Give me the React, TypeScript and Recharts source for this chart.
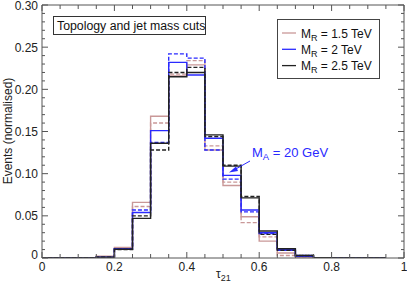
import React from "react";
import { LineChart, Line, XAxis, YAxis } from "recharts";

const binEdges = [0, 0.05, 0.1, 0.15, 0.2, 0.25, 0.3, 0.35, 0.4, 0.45, 0.5, 0.55, 0.6, 0.65, 0.7, 0.75, 0.8, 0.85, 0.9, 0.95];

const mr15Solid = [0, 0, 0, 0.002, 0.0125, 0.066, 0.168, 0.216, 0.229, 0.128, 0.086, 0.049, 0.02, 0.006, 0.001, 0.0005, 0, 0, 0];
const mr15Dashed = [0, 0, 0, 0.0015, 0.012, 0.061, 0.16, 0.218, 0.234, 0.133, 0.09, 0.042, 0.025, 0.003, 0.001, 0, 0, 0, 0];
const mr2Solid = [0, 0, 0, 0.001, 0.011, 0.054, 0.151, 0.232, 0.217, 0.142, 0.098, 0.057, 0.03, 0.01, 0.002, 0.0005, 0, 0, 0];
const mr2Dashed = [0, 0, 0, 0.001, 0.011, 0.057, 0.137, 0.242, 0.237, 0.128, 0.0935, 0.0547, 0.029, 0.009, 0.003, 0.0005, 0, 0, 0];
const mr25Solid = [0, 0, 0, 0.001, 0.0103, 0.047, 0.136, 0.215, 0.22, 0.146, 0.109, 0.0713, 0.032, 0.011, 0.003, 0.0005, 0, 0, 0];
const mr25Dashed = [0, 0, 0, 0.001, 0.01, 0.05, 0.128, 0.22, 0.226, 0.144, 0.11, 0.073, 0.028, 0.009, 0.003, 0.0005, 0, 0, 0];

const xTicks = [0, 0.05, 0.1, 0.15, 0.2, 0.25, 0.3, 0.35, 0.4, 0.45, 0.5, 0.55, 0.6, 0.65, 0.7, 0.75, 0.8, 0.85, 0.9, 0.95, 1];
const xMajorLabels: Record<string, string> = { "0": "0", "0.2": "0.2", "0.4": "0.4", "0.6": "0.6", "0.8": "0.8", "1": "1" };
const yTicks = [0, 0.01, 0.02, 0.03, 0.04, 0.05, 0.06, 0.07, 0.08, 0.09, 0.1, 0.11, 0.12, 0.13, 0.14, 0.15, 0.16, 0.17, 0.18, 0.19, 0.2, 0.21, 0.22, 0.23, 0.24, 0.25, 0.26, 0.27, 0.28, 0.29, 0.3];
const yMajorLabels: Record<string, string> = { "0": "0", "0.05": "0.05", "0.1": "0.10", "0.15": "0.15", "0.2": "0.20", "0.25": "0.25", "0.3": "0.30" };

const legendLabels = ["1.5 TeV", "2 TeV", "2.5 TeV"];
const COLORS = ["#c99898", "#2a2aff", "#222222"];

const data = binEdges.map((x, i) => {
  const idx = Math.min(i, mr15Solid.length - 1);
  return {
    x,
    a: mr15Solid[idx],
    ad: mr15Dashed[idx],
    b: mr2Solid[idx],
    bd: mr2Dashed[idx],
    c: mr25Solid[idx],
    cd: mr25Dashed[idx],
  };
});

const FONT = "'Liberation Sans', Arial, Helvetica, sans-serif";
const AXIS = "#555";

const r = (v: number) => String(Math.round(v * 1000) / 1000);

const BottomTick = (props: any) => {
  const { x, y, payload } = props;
  const key = r(payload.value);
  const major = key in xMajorLabels;
  const len = major ? 6 : 4;
  return (
    <g>
      <line x1={x} x2={x} y1={y} y2={y - len} stroke={AXIS} strokeWidth={1} />
      {major && (
        <text x={x} y={y + 13} textAnchor="middle" fontSize={12} fontFamily={FONT} fill="#222">
          {xMajorLabels[key]}
        </text>
      )}
    </g>
  );
};
const TopTick = (props: any) => {
  const { x, y, payload } = props;
  const major = r(payload.value) in xMajorLabels;
  const len = major ? 6 : 4;
  return <line x1={x} x2={x} y1={y} y2={y + len} stroke={AXIS} strokeWidth={1} />;
};
const LeftTick = (props: any) => {
  const { x, y, payload } = props;
  const key = r(payload.value);
  const major = key in yMajorLabels;
  const len = major ? 6 : 3;
  return (
    <g>
      <line x1={x} x2={x + len} y1={y} y2={y} stroke={AXIS} strokeWidth={1} />
      {major && (
        <text x={x - 4} y={y + (key === "0" ? 1 : 4.5)} textAnchor="end" fontSize={12} fontFamily={FONT} fill="#222">
          {yMajorLabels[key]}
        </text>
      )}
    </g>
  );
};
const RightTick = (props: any) => {
  const { x, y, payload } = props;
  const major = r(payload.value) in yMajorLabels;
  const len = major ? 6 : 3;
  return <line x1={x} x2={x - len} y1={y} y2={y} stroke={AXIS} strokeWidth={1} />;
};

const series = [
  { key: "a", color: COLORS[0], dash: undefined },
  { key: "ad", color: COLORS[0], dash: "4 2" },
  { key: "b", color: COLORS[1], dash: undefined },
  { key: "bd", color: COLORS[1], dash: "4 2" },
  { key: "c", color: COLORS[2], dash: undefined },
  { key: "cd", color: COLORS[2], dash: "4 2" },
];

export default function App() {
  return (
    <div style={{ position: "absolute", left: 0, top: 0, width: 407, height: 286, background: "#fff" }}>
      <LineChart width={407} height={286} data={data} margin={{ top: 4, right: 2, bottom: 27, left: 41 }}>
        <XAxis
          xAxisId="bottom"
          dataKey="x"
          type="number"
          domain={[0, 1]}
          ticks={xTicks}
          interval={0}
          height={1}
          tickSize={0}
          tickMargin={0}
          tickLine={false}
          tick={<BottomTick />}
          axisLine={{ stroke: AXIS }}
          allowDataOverflow
        />
        <XAxis
          xAxisId="top"
          orientation="top"
          dataKey="x"
          type="number"
          domain={[0, 1]}
          ticks={xTicks}
          interval={0}
          height={1}
          tickSize={0}
          tickMargin={0}
          tickLine={false}
          tick={<TopTick />}
          axisLine={{ stroke: AXIS }}
          allowDataOverflow
        />
        <YAxis
          yAxisId="left"
          type="number"
          domain={[0, 0.3]}
          ticks={yTicks}
          interval={0}
          width={1}
          tickSize={0}
          tickMargin={0}
          tickLine={false}
          tick={<LeftTick />}
          axisLine={{ stroke: AXIS }}
          allowDataOverflow
        />
        <YAxis
          yAxisId="right"
          orientation="right"
          type="number"
          domain={[0, 0.3]}
          ticks={yTicks}
          interval={0}
          width={1}
          tickSize={0}
          tickMargin={0}
          tickLine={false}
          tick={<RightTick />}
          axisLine={{ stroke: AXIS }}
          allowDataOverflow
        />
        {series.map((s) => (
          <Line
            key={s.key}
            xAxisId="bottom"
            yAxisId="left"
            dataKey={s.key}
            type="stepAfter"
            stroke={s.color}
            strokeWidth={1.4}
            strokeDasharray={s.dash}
            dot={false}
            activeDot={false}
            isAnimationActive={false}
          />
        ))}
      </LineChart>
      <svg width={407} height={286} style={{ position: "absolute", left: 0, top: 0, pointerEvents: "none" }} fontFamily={FONT}>
        {/* title box */}
        <rect x={53.5} y={16.5} width={152} height={18} fill="#fff" stroke="#333" strokeWidth={1} />
        <text x={57} y={30} fontSize={12.3} fill="#111">Topology and jet mass cuts</text>
        {/* legend */}
        <rect x={277.5} y={19.5} width={102} height={59} fill="#fff" stroke="#444" strokeWidth={1} />
        {legendLabels.map((lab, i) => (
          <g key={lab}>
            <line x1={282} x2={296} y1={33 + i * 16.3} y2={33 + i * 16.3} stroke={COLORS[i]} strokeWidth={1.3} />
            <text x={301} y={37.5 + i * 16.3} fontSize={12} fill="#111">
              M<tspan fontSize={9} dy={3}>R</tspan>
              <tspan dy={-3}>{" = " + lab}</tspan>
            </text>
          </g>
        ))}
        {/* annotation */}
        <text x={252} y={156.5} fontSize={13} fill="#2a2aff">
          M<tspan fontSize={9.5} dy={3}>A</tspan>
          <tspan dy={-3}> = 20 GeV</tspan>
        </text>
        <line x1={250} y1={161} x2={234} y2={170} stroke="#2a2aff" strokeWidth={1} />
        <polygon points="229,172.5 236,166.5 238,171" fill="#2a2aff" />
        {/* axis titles */}
        <text x={216} y={278} fontSize={12} fill="#222">
          τ<tspan fontSize={9} dy={3}>21</tspan>
        </text>
        <text x={0} y={0} fontSize={12} fill="#222" textAnchor="middle" transform="translate(12,131) rotate(-90)">
          Events (normalised)
        </text>
      </svg>
    </div>
  );
}
